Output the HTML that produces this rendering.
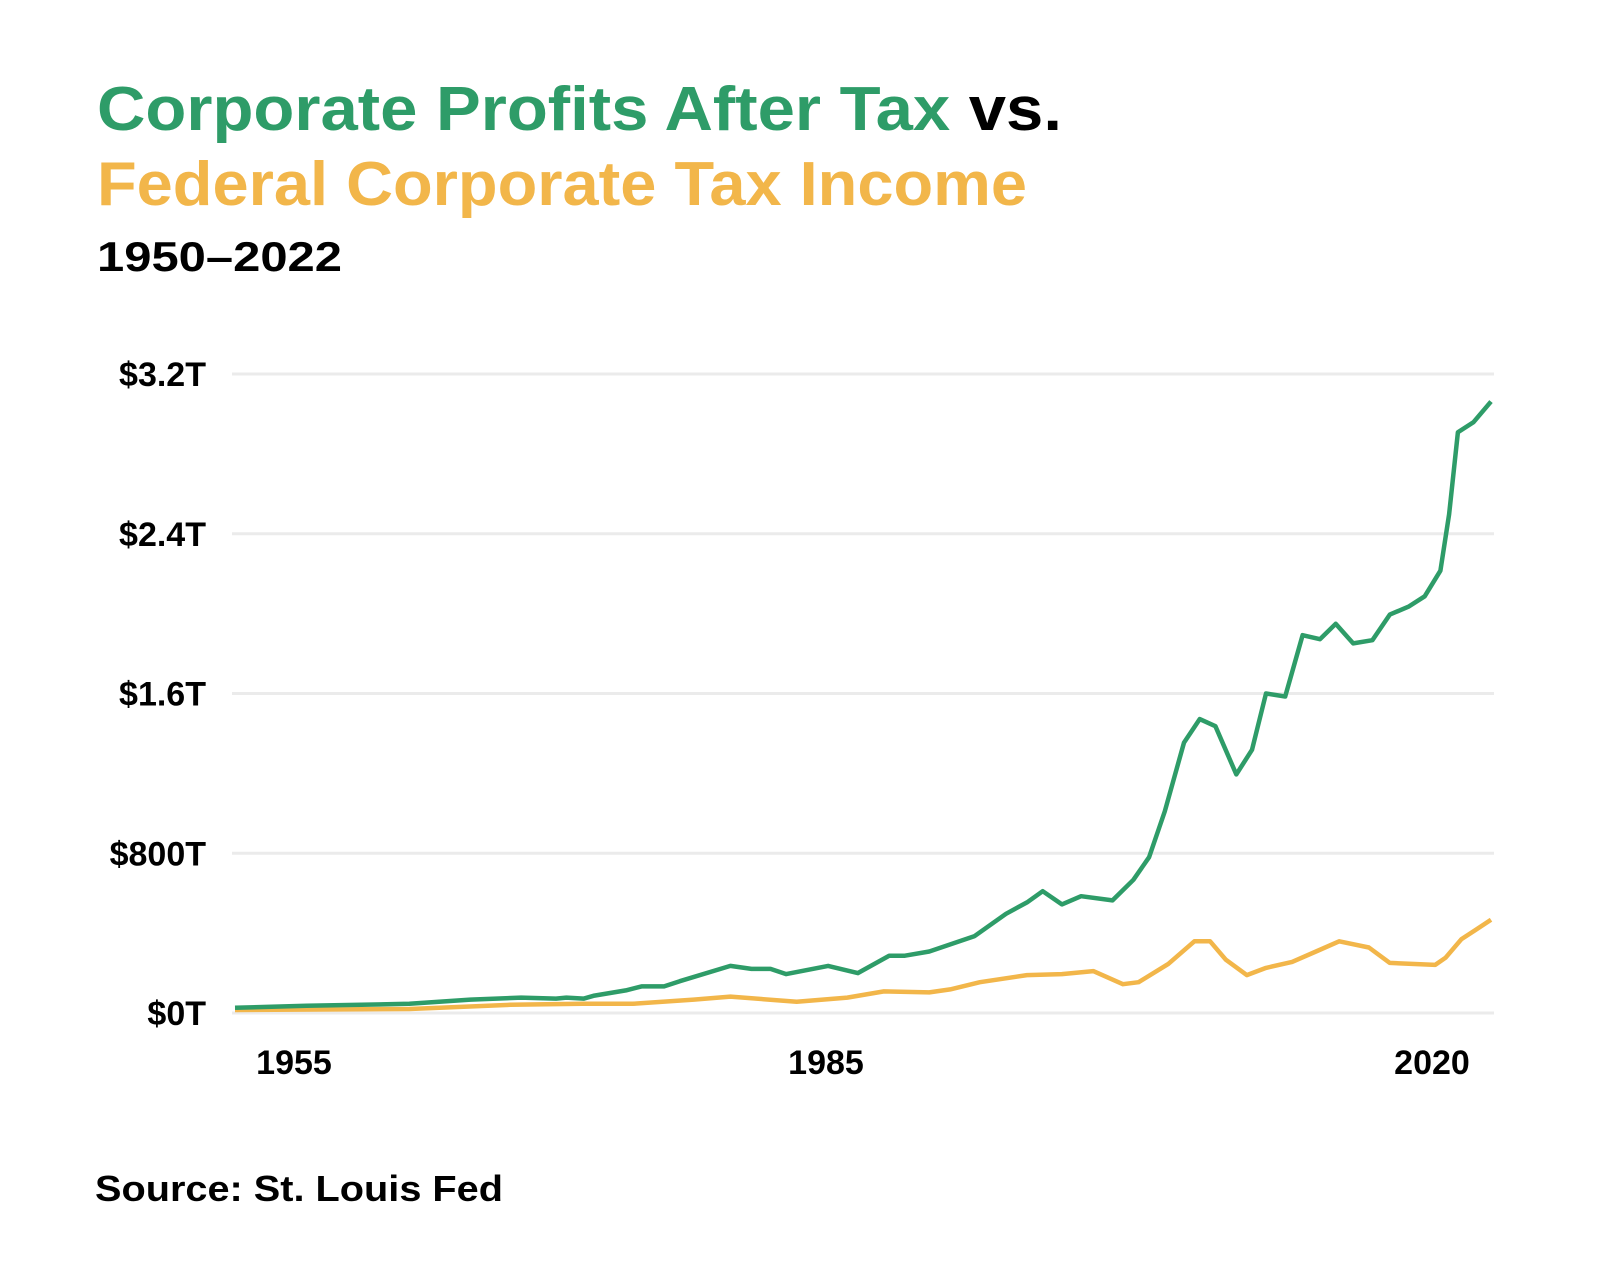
<!DOCTYPE html>
<html><head><meta charset="utf-8"><style>
html,body{margin:0;padding:0;background:#fff;width:1600px;height:1280px;overflow:hidden}
svg{display:block}
text{font-family:"Liberation Sans",sans-serif;font-weight:bold}
</style></head><body>
<svg id="chart" width="1600" height="1280" viewBox="0 0 1600 1280">
<text x="97" y="130" font-size="62" textLength="965" lengthAdjust="spacingAndGlyphs"><tspan fill="#2e9c68">Corporate Profits After Tax </tspan><tspan fill="#000">vs.</tspan></text>
<text x="97" y="205" font-size="62" fill="#f2b64a" textLength="930" lengthAdjust="spacingAndGlyphs">Federal Corporate Tax Income</text>
<text x="97" y="271" font-size="42" fill="#000" textLength="245" lengthAdjust="spacingAndGlyphs">1950–2022</text>
<g id="grid"></g>
<g id="ylabels"></g>
<g id="xlabels"></g>
<g id="series"></g>
<text x="95" y="1201" font-size="36" fill="#000" textLength="408" lengthAdjust="spacingAndGlyphs">Source: St. Louis Fed</text>
</svg>
<script>
const yTicks=[0,0.8,1.6,2.4,3.2];
const yTickLabels=["$0T","$800T","$1.6T","$2.4T","$3.2T"];
const xTickLabels=["1955","1985","2020"];
const profitYears=[1950,1954.1,1960,1963.5,1966.4,1968.4,1969,1970,1970.6,1972.4,1973.3,1974.6,1975.5,1978.4,1979.6,1980.7,1981.6,1984,1985.7,1987.5,1988.4,1989.8,1992.4,1994.2,1995.4,1996.3,1997.4,1998.5,2000.3,2001.5,2002.4,2003.3,2004.4,2005.3,2006.2,2007.4,2008.3,2009.1,2010.2,2011.2,2012.2,2013.1,2014.1,2015.2,2016.2,2017.3,2018.2,2019.1,2019.6,2020.1,2021,2022];
const profitValues=[0.026,0.036,0.046,0.067,0.077,0.072,0.077,0.072,0.087,0.113,0.133,0.133,0.159,0.236,0.221,0.221,0.195,0.236,0.2,0.287,0.287,0.308,0.385,0.497,0.554,0.61,0.544,0.585,0.564,0.667,0.78,1.01,1.354,1.472,1.436,1.195,1.318,1.6,1.585,1.892,1.872,1.949,1.851,1.867,1.995,2.036,2.087,2.215,2.497,2.908,2.959,3.062];
const taxYears=[1950,1960,1965.8,1969.9,1972.8,1976.3,1978.4,1982.2,1985.1,1987.2,1989.8,1991,1992.7,1995.4,1997.4,1999.2,2000.9,2001.8,2003.5,2005,2005.9,2006.8,2008,2009.1,2010.6,2012.1,2013.3,2015,2016.2,2018.8,2019.4,2020.3,2021.1,2022];
const taxValues=[0.015,0.02,0.041,0.046,0.046,0.067,0.082,0.056,0.077,0.108,0.103,0.118,0.154,0.19,0.195,0.21,0.144,0.154,0.246,0.359,0.359,0.267,0.19,0.226,0.256,0.313,0.359,0.328,0.251,0.241,0.277,0.369,0.415,0.467];
const NS="http://www.w3.org/2000/svg";
const X0=235,X1=1491,Y0=1013,Y1=374,Y0v=0,Y1v=3.2,YR0=1950,YR1=2022;
function xScale(yr){return X0+(yr-YR0)*(X1-X0)/(YR1-YR0);}
function yScale(v){return Y0-(v-Y0v)*(Y0-Y1)/(Y1v-Y0v);}
const grid=document.getElementById('grid'),yl=document.getElementById('ylabels'),xl=document.getElementById('xlabels'),se=document.getElementById('series');
yTicks.forEach((t,i)=>{
  const l=document.createElementNS(NS,'line');
  
  
  l.setAttribute('x1',232);l.setAttribute('x2',1494);l.setAttribute('y1',yScale(t));l.setAttribute('y2',yScale(t));
  l.setAttribute('stroke','#ebebeb');l.setAttribute('stroke-width','3');
  grid.appendChild(l);
  const tx=document.createElementNS(NS,'text');
  
  
  tx.setAttribute('x',206);tx.setAttribute('y',yScale(t)+12);tx.setAttribute('text-anchor','end');tx.setAttribute('font-size','34');
  tx.textContent=yTickLabels[i];
  yl.appendChild(tx);
});
const xLabelPos=[294,826,1432];
xTickLabels.forEach((s,i)=>{
  const tx=document.createElementNS(NS,'text');
  
  
  tx.setAttribute('x',xLabelPos[i]);tx.setAttribute('y',1074);tx.setAttribute('text-anchor','middle');tx.setAttribute('font-size','34');
  tx.textContent=s;
  xl.appendChild(tx);
});
function drawLine(years,vals,color,name){
  const p=document.createElementNS(NS,'polyline');
  
  
  p.setAttribute('points',years.map((y,i)=>xScale(y).toFixed(1)+','+yScale(vals[i]).toFixed(1)).join(' '));
  p.setAttribute('fill','none');p.setAttribute('stroke',color);p.setAttribute('stroke-width','4.5');p.setAttribute('stroke-linejoin','round');
  se.appendChild(p);
}
drawLine(taxYears,taxValues,'#f2b64a','tax-income-line');
drawLine(profitYears,profitValues,'#2e9c68','profits-line');
</script>
</body></html>
